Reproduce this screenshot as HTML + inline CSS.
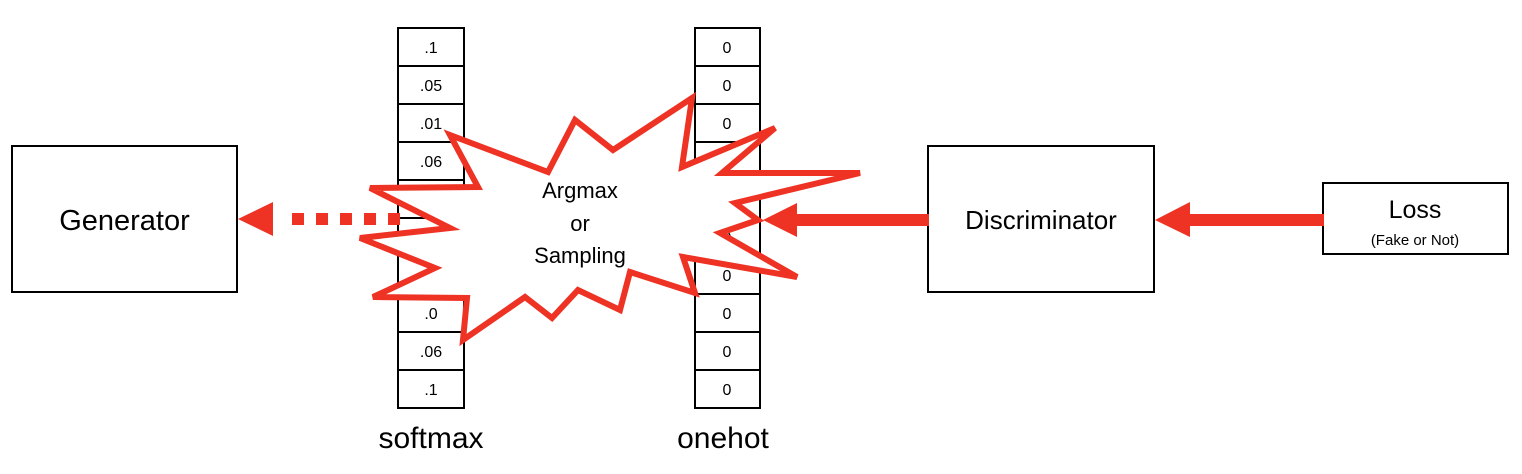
<!DOCTYPE html>
<html><head><meta charset="utf-8"><style>html,body{margin:0;padding:0;background:#fff}svg{display:block}</style></head><body>
<svg width="1522" height="474" viewBox="0 0 1522 474" xmlns="http://www.w3.org/2000/svg" font-family="Liberation Sans, DejaVu Sans, sans-serif">
<rect x="12" y="146" width="225" height="146" fill="#fff" stroke="#000" stroke-width="2"/>
<text x="124.5" y="230" font-size="29" text-anchor="middle">Generator</text>
<rect x="928" y="146" width="226" height="146" fill="#fff" stroke="#000" stroke-width="2"/>
<text x="1041" y="229" font-size="26" text-anchor="middle">Discriminator</text>
<rect x="1323" y="183" width="185" height="71" fill="#fff" stroke="#000" stroke-width="2"/>
<text x="1415" y="218" font-size="25" text-anchor="middle">Loss</text>
<text x="1415" y="245" font-size="15" text-anchor="middle">(Fake or Not)</text>
<g stroke="#000" stroke-width="2" fill="#fff">
<rect x="398" y="28" width="66" height="380"/>
<rect x="695" y="28" width="65" height="380"/>
</g>
<g stroke="#000" stroke-width="2">
<line x1="398" y1="66" x2="464" y2="66"/><line x1="398" y1="104" x2="464" y2="104"/><line x1="398" y1="142" x2="464" y2="142"/><line x1="398" y1="180" x2="464" y2="180"/><line x1="398" y1="218" x2="464" y2="218"/><line x1="398" y1="256" x2="464" y2="256"/><line x1="398" y1="294" x2="464" y2="294"/><line x1="398" y1="332" x2="464" y2="332"/><line x1="398" y1="370" x2="464" y2="370"/>
<line x1="695" y1="66" x2="760" y2="66"/><line x1="695" y1="104" x2="760" y2="104"/><line x1="695" y1="142" x2="760" y2="142"/><line x1="695" y1="180" x2="760" y2="180"/><line x1="695" y1="218" x2="760" y2="218"/><line x1="695" y1="256" x2="760" y2="256"/><line x1="695" y1="294" x2="760" y2="294"/><line x1="695" y1="332" x2="760" y2="332"/><line x1="695" y1="370" x2="760" y2="370"/>
</g>
<g font-size="16" text-anchor="middle">
<text x="431" y="53">.1</text><text x="431" y="91">.05</text><text x="431" y="129">.01</text><text x="431" y="167">.06</text>
<text x="431" y="319">.0</text><text x="431" y="357">.06</text><text x="431" y="395">.1</text>
<text x="727" y="53">0</text><text x="727" y="91">0</text><text x="727" y="129">0</text><text x="727" y="167">0</text><text x="727" y="205">1</text><text x="727" y="243">0</text><text x="727" y="281">0</text><text x="727" y="319">0</text><text x="727" y="357">0</text><text x="727" y="395">0</text>
</g>
<g fill="#ee3224">
<rect x="292" y="213" width="12" height="12"/><rect x="316" y="213" width="12" height="12"/><rect x="340" y="213" width="12" height="12"/><rect x="364" y="213" width="12" height="12"/><rect x="388" y="213" width="12" height="12"/>
<polygon points="238,219 273,202 273,236"/>
</g>
<polygon fill="#fff" stroke="#ee3224" stroke-width="6" stroke-linejoin="miter" points="450,135 548,172 575,120 613,150 692,98 682,167 775,128 722,173 860,173 735,203 758,220 720,233 797,277 683,257 695,293 630,272 620,310 578,290 552,318 525,297 463,340 467,298 373,297 435,268 360,238 450,228 370,188 478,187"/>
<g font-size="22" text-anchor="middle">
<text x="580" y="198">Argmax</text><text x="580" y="231">or</text><text x="580" y="263">Sampling</text>
</g>
<g fill="#ee3224">
<rect x="790" y="214" width="139" height="12"/>
<polygon points="763,220 797,203 797,237"/>
<rect x="1185" y="214" width="139" height="12"/>
<polygon points="1155,220 1190,202 1190,237"/>
</g>
<text x="431" y="448" font-size="30" text-anchor="middle">softmax</text>
<text x="723" y="448" font-size="30" text-anchor="middle">onehot</text>
</svg>
</body></html>
